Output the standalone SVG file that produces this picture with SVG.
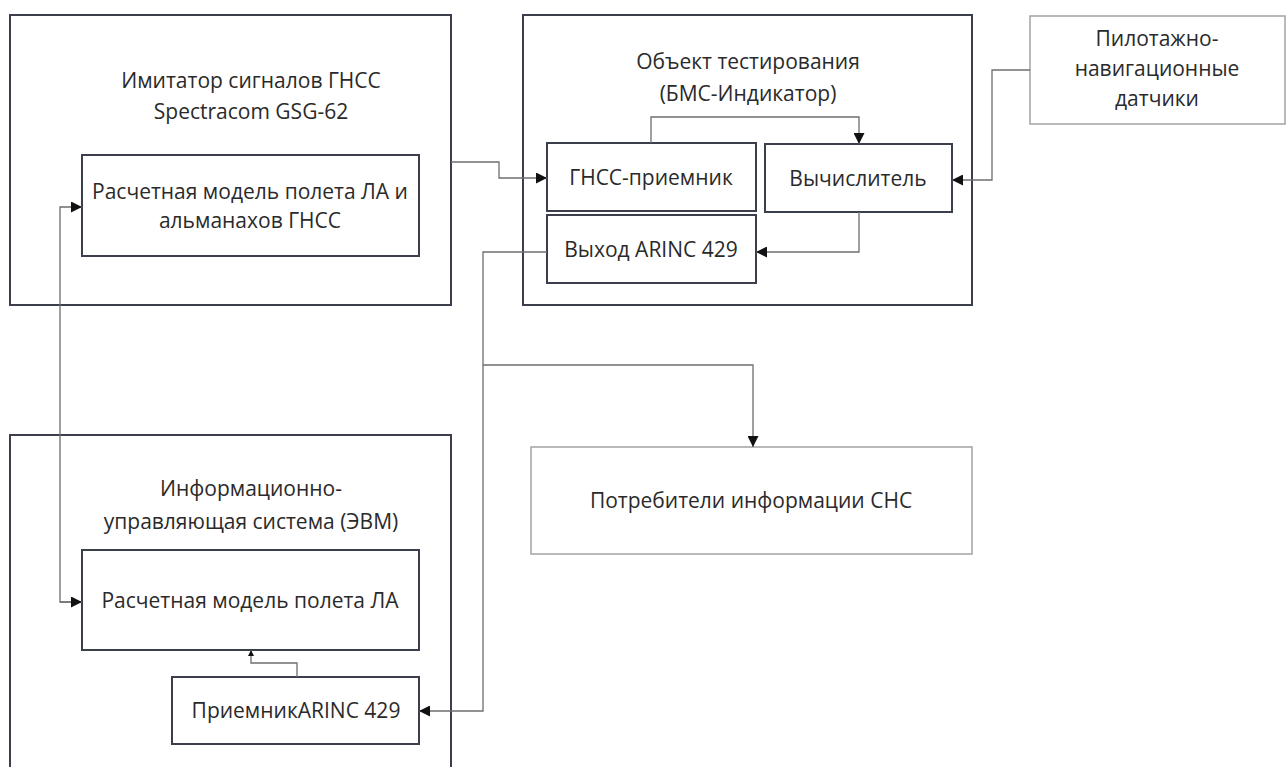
<svg xmlns="http://www.w3.org/2000/svg" width="1287" height="767" viewBox="0 0 1287 767">
  <defs>
    <marker id="arrow" viewBox="0 0 10 10" refX="10" refY="5" markerWidth="11" markerHeight="11" markerUnits="userSpaceOnUse" orient="auto">
      <path d="M0,0 L10,5 L0,10 z" fill="#111"/>
    </marker>
    <marker id="arrow-small" viewBox="0 0 10 10" refX="10" refY="5" markerWidth="6" markerHeight="6" markerUnits="userSpaceOnUse" orient="auto">
      <path d="M0,0 L10,5 L0,10 z" fill="#111"/>
    </marker>
    <style>
      .frame { fill: #ffffff; stroke: #3b3f4b; stroke-width: 2; }
      .block { fill: #ffffff; stroke: #3b3f4b; stroke-width: 2; }
      .light { fill: #ffffff; stroke: #a3a3a3; stroke-width: 1.5; }
      .link { fill: none; stroke: #6e6e6e; stroke-width: 1.3; }
      text { font-family: "Open Sans", "Noto Sans", "DejaVu Sans", sans-serif; font-size: 21px; fill: #2a2a2a; text-anchor: middle; dominant-baseline: middle; }
    </style>
  </defs>
  <rect width="1287" height="767" fill="#ffffff"/>

  <!-- GNSS signal simulator -->
  <g id="simulator">
    <rect class="frame" x="10" y="15" width="441" height="290"/>
    <text x="251" y="82">Имитатор сигналов ГНСС</text>
    <text x="251" y="113">Spectracom GSG-62</text>
  </g>
  <g id="sim-model">
    <rect class="block" x="82" y="155" width="337" height="101"/>
    <text x="250" y="193">Расчетная модель полета ЛА и</text>
    <text x="250" y="222">альманахов ГНСС</text>
  </g>

  <!-- Unit under test -->
  <g id="test-object">
    <rect class="frame" x="523" y="15" width="449" height="290"/>
    <text x="748" y="63">Объект тестирования</text>
    <text x="748" y="95">(БМС-Индикатор)</text>
  </g>
  <g id="gnss-receiver">
    <rect class="block" x="547" y="143" width="209" height="68"/>
    <text x="651" y="179">ГНСС-приемник</text>
  </g>
  <g id="computer">
    <rect class="block" x="765" y="144" width="187" height="68"/>
    <text x="858" y="180">Вычислитель</text>
  </g>
  <g id="arinc-out">
    <rect class="block" x="547" y="215" width="209" height="68"/>
    <text x="651" y="251">Выход ARINC 429</text>
  </g>

  <!-- Flight and navigation sensors -->
  <g id="sensors">
    <rect class="light" x="1030" y="16" width="255" height="108"/>
    <text x="1157" y="40">Пилотажно-</text>
    <text x="1157" y="70">навигационные</text>
    <text x="1157" y="100">датчики</text>
  </g>

  <!-- Host control system -->
  <g id="control-system">
    <rect class="frame" x="10" y="435" width="441" height="345"/>
    <text x="251" y="490">Информационно-</text>
    <text x="251" y="523">управляющая система (ЭВМ)</text>
  </g>
  <g id="host-model">
    <rect class="block" x="82" y="550" width="337" height="100"/>
    <text x="250" y="602">Расчетная модель полета ЛА</text>
  </g>
  <g id="arinc-in">
    <rect class="block" x="172" y="677" width="247" height="67"/>
    <text x="296" y="712">ПриемникARINC 429</text>
  </g>

  <!-- SNS data consumers -->
  <g id="consumers">
    <rect class="light" x="531" y="447" width="441" height="107"/>
    <text x="751" y="502">Потребители информации СНС</text>
  </g>

  <!-- Connectors -->
  <g id="connectors">
    <path class="link" d="M451,162 H499 V178 H547" marker-end="url(#arrow)"/>
    <path class="link" d="M651,143 V117 H859 V144" marker-end="url(#arrow)"/>
    <path class="link" d="M1030,70 H992 V180 H952" marker-end="url(#arrow)"/>
    <path class="link" d="M859,212 V252 H756" marker-end="url(#arrow)"/>
    <path class="link" d="M547,252 H483 V711 H419" marker-end="url(#arrow)"/>
    <path class="link" d="M483,365 H753 V447" marker-end="url(#arrow)"/>
    <path class="link" d="M82,602 H60 V207 H82" marker-end="url(#arrow)"/>
    <path class="link" d="M60,602 H82" marker-end="url(#arrow)"/>
    <path class="link" d="M297,677 V663 H251 V650" marker-end="url(#arrow-small)"/>
  </g>
</svg>
